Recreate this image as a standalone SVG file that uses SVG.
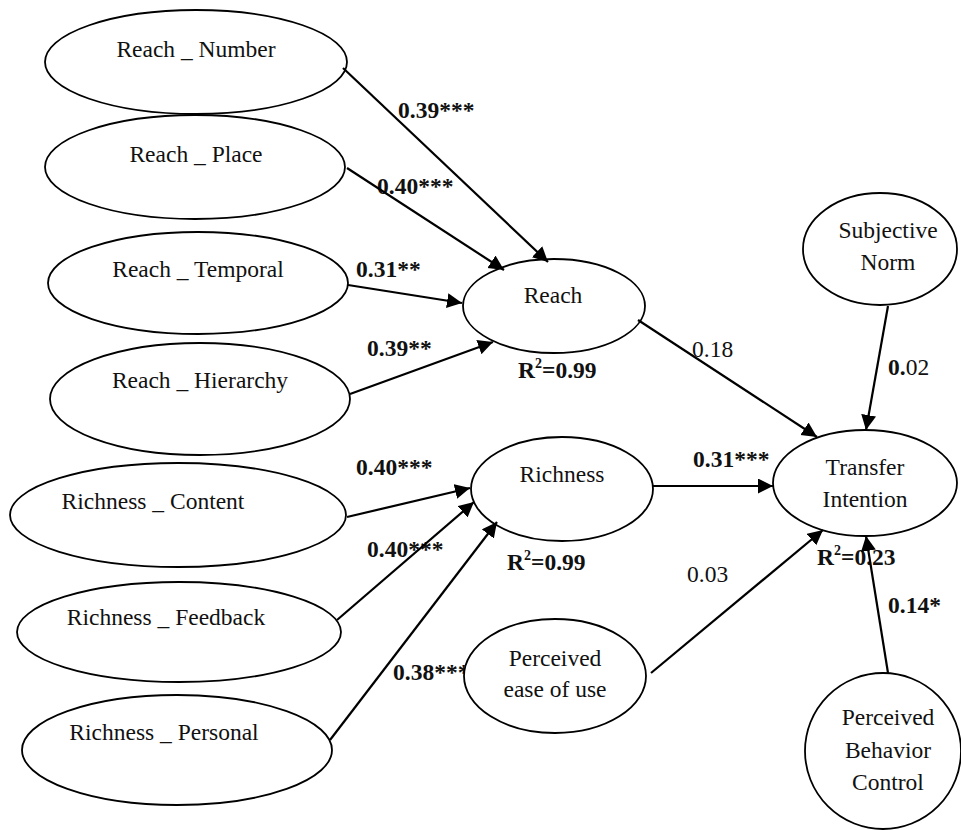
<svg xmlns="http://www.w3.org/2000/svg" width="961" height="830" viewBox="0 0 961 830">
  <style>
    text { font-family: 'Liberation Serif', 'Times New Roman', Times, 'DejaVu Serif', serif; font-size: 23.5px; fill: #111; }
    .node { fill: #fff; stroke: #000; stroke-width: 1.8; }
    .ntext { text-anchor: middle; }
    .b { font-weight: bold; }
    .edge { stroke: #000; stroke-width: 2.2; fill: none; marker-end: url(#arrow); }
  </style>
  <defs>
    <marker id="arrow" markerUnits="userSpaceOnUse" markerWidth="16" markerHeight="16" refX="15" refY="7.5" orient="auto">
      <path d="M0,0 L15,7.5 L0,15 z" fill="#000"/>
    </marker>
  </defs>
  <rect width="961" height="830" fill="#fff"/>

  <!-- path coefficients and R-squared values -->
  <g id="labels" font-family="Liberation Serif, serif">
    <text class="b" x="398" y="118">0.39***</text>
    <text class="b" x="377" y="194">0.40***</text>
    <text class="b" x="356" y="277">0.31**</text>
    <text class="b" x="367" y="356">0.39**</text>
    <text class="b" x="518" y="378">R<tspan font-size="14" dy="-10">2</tspan><tspan dy="10">=0.99</tspan></text>
    <text x="692" y="357">0.18</text>
    <text x="888" y="375"><tspan class="b">0.</tspan>02</text>
    <text class="b" x="356" y="475">0.40***</text>
    <text class="b" x="693" y="467">0.31***</text>
    <text class="b" x="367" y="557">0.40***</text>
    <text class="b" x="507" y="570">R<tspan font-size="14" dy="-10">2</tspan><tspan dy="10">=0.99</tspan></text>
    <text class="b" x="817" y="565">R<tspan font-size="14" dy="-10">2</tspan><tspan dy="10">=0.23</tspan></text>
    <text x="687" y="582">0.03</text>
    <text class="b" x="888" y="613">0.14*</text>
    <text class="b" x="393" y="680">0.38***</text>
  </g>

  <g id="reach_number">
    <ellipse class="node" cx="196" cy="62" rx="151" ry="52"/>
    <text class="ntext" x="196" y="57">Reach _ Number</text>
  </g>
  <g id="reach_place">
    <ellipse class="node" cx="195" cy="167" rx="150" ry="52"/>
    <text class="ntext" x="196" y="162">Reach _ Place</text>
  </g>
  <g id="reach_temporal">
    <ellipse class="node" cx="198" cy="283" rx="150" ry="51"/>
    <text class="ntext" x="198" y="277">Reach _ Temporal</text>
  </g>
  <g id="reach_hierarchy">
    <ellipse class="node" cx="200" cy="399" rx="150" ry="56"/>
    <text class="ntext" x="200" y="388">Reach _ Hierarchy</text>
  </g>
  <g id="richness_content">
    <ellipse class="node" cx="178" cy="515" rx="168" ry="52"/>
    <text class="ntext" x="153" y="509">Richness _ Content</text>
  </g>
  <g id="richness_feedback">
    <ellipse class="node" cx="179" cy="632" rx="162" ry="50"/>
    <text class="ntext" x="166" y="625">Richness _ Feedback</text>
  </g>
  <g id="richness_personal">
    <ellipse class="node" cx="177" cy="750" rx="155" ry="55"/>
    <text class="ntext" x="164" y="740">Richness _ Personal</text>
  </g>
  <g id="reach">
    <ellipse class="node" cx="554" cy="306" rx="91" ry="47"/>
    <text class="ntext" x="553" y="303">Reach</text>
  </g>
  <g id="richness">
    <ellipse class="node" cx="562" cy="489" rx="91" ry="52"/>
    <text class="ntext" x="562" y="482">Richness</text>
  </g>
  <g id="perceived_ease_of_use">
    <ellipse class="node" cx="555" cy="676" rx="91" ry="57"/>
    <text class="ntext" x="555" y="666">Perceived</text>
    <text class="ntext" x="555" y="697">ease of use</text>
  </g>
  <g id="subjective_norm">
    <ellipse class="node" cx="880" cy="249" rx="77" ry="56"/>
    <text class="ntext" x="888" y="238">Subjective</text>
    <text class="ntext" x="888" y="270">Norm</text>
  </g>
  <g id="transfer_intention">
    <ellipse class="node" cx="865" cy="483" rx="92" ry="53"/>
    <text class="ntext" x="865" y="475">Transfer</text>
    <text class="ntext" x="865" y="507">Intention</text>
  </g>
  <g id="perceived_behavior_control">
    <ellipse class="node" cx="883" cy="751" rx="78" ry="78"/>
    <text class="ntext" x="888" y="725">Perceived</text>
    <text class="ntext" x="888" y="758">Behavior</text>
    <text class="ntext" x="888" y="790">Control</text>
  </g>

  <g id="connectors">
    <line class="edge" x1="343" y1="68" x2="548" y2="262"/>
    <line class="edge" x1="347" y1="168" x2="504" y2="270"/>
    <line class="edge" x1="348" y1="285" x2="462" y2="303"/>
    <line class="edge" x1="350" y1="394" x2="493" y2="342"/>
    <line class="edge" x1="347" y1="517" x2="470" y2="488"/>
    <line class="edge" x1="337" y1="620" x2="474" y2="502"/>
    <line class="edge" x1="330" y1="740" x2="497" y2="522"/>
    <line class="edge" x1="638" y1="320" x2="817" y2="437"/>
    <line class="edge" x1="888" y1="306" x2="866" y2="430"/>
    <line class="edge" x1="653" y1="486" x2="773" y2="486"/>
    <line class="edge" x1="651" y1="673" x2="823" y2="530"/>
    <line class="edge" x1="888" y1="673" x2="866" y2="536"/>
  </g>
</svg>
